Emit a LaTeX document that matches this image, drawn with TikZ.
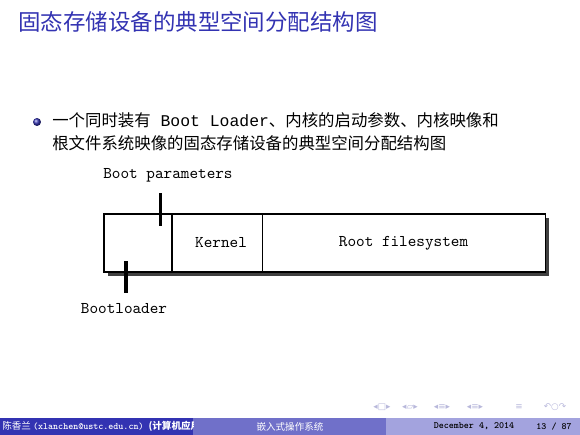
\documentclass[tikz,border=0pt]{standalone}
\usepackage{fontspec}
\newfontfamily\cjk{Noto Sans CJK SC}
\newfontfamily\sym{DejaVu Sans}
\newfontfamily\lmono{Liberation Mono}
\usetikzlibrary{positioning,backgrounds}
\definecolor{structure}{rgb}{0.2,0.2,0.7}
\definecolor{footmid}{rgb}{0.44,0.44,0.79}
\definecolor{footright}{rgb}{0.64,0.64,0.87}
\definecolor{navgray}{rgb}{0.72,0.72,0.86}
\tikzset{
  seg/.style={draw,line width=0.7pt,fill=white,minimum height=36.4pt,
    inner sep=0pt,outer sep=0pt,font=\ttfamily\fontsize{10.3}{12}\selectfont},
  lbl/.style={inner sep=0pt,font=\ttfamily\fontsize{10.3}{12}\selectfont},
  marker/.style={line width=1.9pt},
  foot/.style={inner sep=0pt,font=\fontsize{6}{7}\selectfont},
  nav/.style={inner sep=0pt,text=navgray,font=\sym\fontsize{5.5}{6}\selectfont}
}
\begin{document}
\begin{tikzpicture}[x=0.6276pt,y=-0.6276pt]
   \useasboundingbox (0,0) rectangle (580,435);
   \node[anchor=west,inner sep=0pt,text=structure,font=\cjk\fontsize{14.1}{17}\selectfont] (title) at (18,22) {固态存储设备的典型空间分配结构图};
   \shade[ball color=structure] (37,122) circle (2.5pt);
   \node[anchor=west,inner sep=0pt,font=\cjk\fontsize{10.3}{12}\selectfont] (line_1) at (52,120) {一个同时装有{\lmono\ Boot Loader}、内核的启动参数、内核映像和};
   \node[anchor=west,inner sep=0pt,font=\cjk\fontsize{10.3}{12}\selectfont] (line_2) at (52,143) {根文件系统映像的固态存储设备的典型空间分配结构图};

   \node[seg,minimum width=42.7pt,anchor=north west] (boot) at (104,214) {};
   \node[seg,minimum width=56.5pt] (kern) [right=0pt of boot] {\hspace{5pt}Kernel};
   \node[seg,minimum width=177.6pt] (rootfs) [right=0pt of kern] {Root filesystem};
   \begin{scope}[on background layer]
     \fill[black!75] ([shift={(4,4)}]boot.north west) rectangle ([shift={(4,4)}]rootfs.south east);
   \end{scope}
   \node[lbl] (bparam) at (168,175) {Boot parameters};
   \node[lbl] (bloader) at (124,309) {Bootloader};
   \draw[marker] (boot.north east) ++(-12,-21) -- ++(0,33);
   \draw[marker] (boot.south west) ++(22,-11) -- ++(0,32);

   \node[nav] (nav_1) at (382,407) {◂□▸};
   \node[nav] (nav_2) at (410,407) {◂▱▸};
   \node[nav] (nav_3) at (442,407) {◂≡▸};
   \node[nav] (nav_4) at (475,407) {◂≡▸};
   \node[nav] (nav_5) at (519,407) {≡};
   \node[nav] (nav_6) at (555,407) {↶○↷};

   \fill[structure] (0,418) rectangle (193,435);
   \fill[footmid] (193,418) rectangle (386,435);
   \fill[footright] (386,418) rectangle (580,435);
   \begin{scope}
     \clip (0,418) rectangle (193,435);
     \node[foot,anchor=west,text=white] (author) at (2,426.5) {\cjk 陈香兰 \ttfamily\bfseries (xlanchen@ustc.edu.cn) \cjk (计算机应用};
   \end{scope}
   \node[foot,text=white] (course) at (290,426.5) {\cjk 嵌入式操作系统};
   \node[foot,text=black] (date) at (474,426.5) {\ttfamily\bfseries December 4, 2014};
   \node[foot,text=black] (page) at (554,426.5) {\ttfamily\bfseries 13 / 87};
\end{tikzpicture}
\end{document}
